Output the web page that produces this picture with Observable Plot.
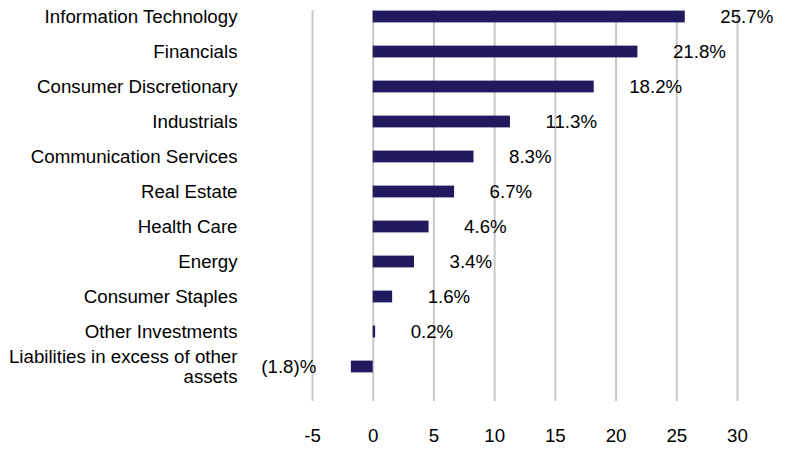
<!DOCTYPE html>
<html>
<head>
<meta charset="utf-8">
<script src="https://cdn.jsdelivr.net/npm/d3@7"></script>
<script src="https://cdn.jsdelivr.net/npm/@observablehq/plot@0.6"></script>
<style>
  html, body { margin: 0; padding: 0; background: #fff; }
  #chart svg { display: block; }
</style>
</head>
<body>
<div id="chart"></div>
<script>
const categories = [
  "Information Technology",
  "Financials",
  "Consumer Discretionary",
  "Industrials",
  "Communication Services",
  "Real Estate",
  "Health Care",
  "Energy",
  "Consumer Staples",
  "Other Investments",
  "Liabilities in excess of other assets"
];
const values = [25.7, 21.8, 18.2, 11.3, 8.3, 6.7, 4.6, 3.4, 1.6, 0.2, -1.8];
const xTicks = [-5, 0, 5, 10, 15, 20, 25, 30];
const tickLabelMap = {
  "Liabilities in excess of other assets": "Liabilities in excess of other\nassets"
};

const data = categories.map((c, i) => ({ category: c, value: values[i] }));
const fmt = v => v < 0 ? `(${Math.abs(v).toFixed(1)})%` : `${v.toFixed(1)}%`;
const font = "Liberation Sans, Arial, sans-serif";
const fs = 18.7;

const chart = Plot.plot({
  width: 804,
  height: 466,
  marginLeft: 312,
  marginRight: 67,
  marginTop: 10,
  marginBottom: 65,
  style: { fontFamily: font, fontSize: fs + "px", color: "#000", background: "#fff" },
  x: { domain: [-5, 30], ticks: xTicks },
  y: { domain: categories, range: [-2.6, 384.6], padding: 0 },
  marks: [
    Plot.gridX(xTicks, { stroke: "#c8c8c8", strokeWidth: 2, strokeOpacity: 1 }),
    Plot.barX(data, { x: "value", y: "category", fill: "#221a5e", insetTop: 11.6, insetBottom: 11.6 }),
    Plot.text(data.filter(d => d.value >= 0), {
      x: "value", y: "category", text: d => fmt(d.value),
      dx: 35, textAnchor: "start", fontSize: fs, fill: "#000"
    }),
    Plot.text(data.filter(d => d.value < 0), {
      x: "value", y: "category", text: d => fmt(d.value),
      dx: -35, textAnchor: "end", fontSize: fs, fill: "#000"
    }),
    Plot.axisY({
      tickSize: 0, tickPadding: 75, label: null,
      tickFormat: d => tickLabelMap[d] || d,
      lineHeight: 1.07, fontSize: fs, fill: "#000"
    }),
    Plot.axisX(xTicks, {
      tickSize: 0, tickPadding: 27, label: null, fontSize: fs, fill: "#000",
      tickFormat: d => String(d)
    })
  ]
});
document.getElementById("chart").appendChild(chart);
</script>
</body>
</html>
